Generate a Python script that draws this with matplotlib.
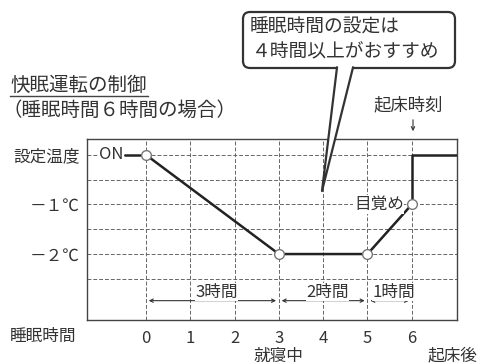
import matplotlib
matplotlib.use('Agg')
import matplotlib.pyplot as plt
import matplotlib.transforms as mtransforms
from matplotlib.patches import FancyBboxPatch, Polygon
from matplotlib.lines import Line2D

plt.rcParams['font.family'] = ['Noto Sans CJK JP', 'DejaVu Sans']

# ---- data ----
hours = [0, 1, 2, 3, 4, 5, 6]
hour_labels = ['0', '1', '2', '3', '4', '5', '6']
ctrl_hours = [0, 3, 5, 6]
ctrl_temps = [0, -2, -2, -1]
wake_hours = [6, 6, 7.1]
wake_temps = [-1, 0, 0]
on_hours = [-0.5, 0]
on_temps = [0, 0]
y_levels = [0, -1, -2]
y_labels = ['設定温度', '－１℃', '－２℃']
grid_y = [0, -0.5, -1, -1.5, -2, -2.5]
span_starts = [0, 3, 5]
span_ends = [3, 5, 6]
span_labels = ['3時間', '2時間', '1時間']

W, H = 480, 364
fig = plt.figure(figsize=(W / 100, H / 100), dpi=100)
pix = mtransforms.Affine2D().scale(1 / W, -1 / H).translate(0, 1) + fig.transFigure

ax = fig.add_axes([87 / W, 1 - 320 / H, (457 - 87) / W, (320 - 139) / H])
ax.set_xlim(-1.33, 7.02)
ax.set_ylim(-3.33, 0.32)
for s in ax.spines.values():
    s.set_color('#444')
    s.set_linewidth(1.0)

for x in hours:
    ax.axvline(x, color='#666', lw=0.7, ls=(0, (4, 2)), zorder=1)
for y in grid_y:
    ax.axhline(y, color='#666', lw=0.7, ls=(0, (4, 2)), zorder=1)

ax.set_xticks(hours)
ax.set_xticklabels(hour_labels, fontsize=12, color='#333')
ax.set_yticks(y_levels)
ax.set_yticklabels(y_labels, fontsize=12, color='#333')
ax.tick_params(axis='both', length=0)
ax.tick_params(axis='x', pad=7)
ax.tick_params(axis='y', pad=5)

# control line
ax.plot(on_hours, on_temps, color='#222', lw=1.8, zorder=3, solid_capstyle='butt')
ax.plot(ctrl_hours, ctrl_temps, color='#222', lw=1.8, zorder=3)
ax.plot(wake_hours, wake_temps, color='#222', lw=1.8, zorder=3, clip_on=True)
ax.plot(ctrl_hours, ctrl_temps, 'o', ms=7, mfc='white', mec='#777', mew=1, zorder=5)

ax.text(-0.79, 0, 'ON', ha='center', va='center', fontsize=12, color='#333',
        bbox=dict(fc='white', ec='none', pad=0.5), zorder=4)
ax.text(5.82, -1, '目覚め', ha='right', va='center', fontsize=12, color='#333',
        bbox=dict(fc='white', ec='none', pad=0.5), zorder=4)

# span arrows
for a, b, lab in zip(span_starts, span_ends, span_labels):
    ax.annotate('', xy=(b, -2.94), xytext=(a, -2.94),
                arrowprops=dict(arrowstyle='<->', lw=0.8, color='#333',
                                shrinkA=2, shrinkB=2, mutation_scale=6), zorder=4)
    ax.text((a + b) / 2 + 0.1, -2.77, lab, ha='center', va='center', fontsize=12,
            color='#333', bbox=dict(fc='white', ec='none', pad=0.3), zorder=4)

# texts outside axes
fig.text(10, 85, '快眠運転の制御', transform=pix, fontsize=14, va='center', color='#333')
fig.add_artist(Line2D([10, 148], [96, 96], transform=pix, color='#444', lw=1))
fig.text(3, 110, '（睡眠時間６時間の場合）', transform=pix, fontsize=14, va='center', color='#333')
fig.text(10, 336, '睡眠時間', transform=pix, fontsize=12, va='center', color='#333')
fig.text(278, 356, '就寝中', transform=pix, fontsize=12, va='center', ha='center', color='#333')
fig.text(452, 356, '起床後', transform=pix, fontsize=12, va='center', ha='center', color='#333')
fig.text(408, 105, '起床時刻', transform=pix, fontsize=12.5, va='center', ha='center', color='#333')
fig.add_artist(matplotlib.patches.FancyArrowPatch((413, 117), (413, 134), transform=pix,
               arrowstyle='->', mutation_scale=6, lw=0.8, color='#333'))

# callout
box = FancyBboxPatch((243, 12), 212, 56, boxstyle='round,pad=0,rounding_size=7',
                     transform=pix, fc='white', ec='#333', lw=1.6, zorder=10)
fig.add_artist(box)
tail = Polygon([(337, 66), (353, 66), (322, 191)], closed=True, transform=pix,
               fc='white', ec='none', zorder=11)
fig.add_artist(tail)
fig.add_artist(Line2D([337, 322, 353], [67.5, 191, 67.5], transform=pix,
                      color='#333', lw=1.6, zorder=12))
t1 = fig.text(250, 27, '睡眠時間の設定は', transform=pix, fontsize=13.5, va='center', color='#333')
t2 = fig.text(252, 52, '４時間以上がおすすめ', transform=pix, fontsize=13.5, va='center', color='#333')
t1.set_zorder(13)
t2.set_zorder(13)

fig.savefig('out.png', dpi=100)
